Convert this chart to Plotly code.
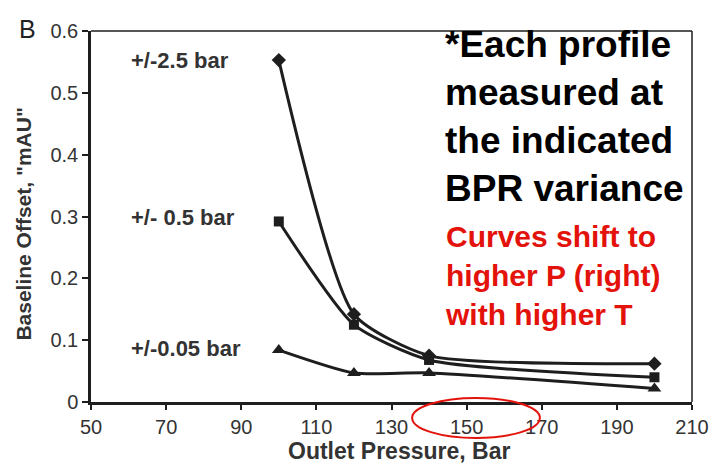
import plotly.graph_objects as go

pressure = [100, 120, 140, 200]
offset_2_5 = [0.553, 0.142, 0.075, 0.062]
offset_0_5 = [0.292, 0.125, 0.068, 0.040]
offset_0_05 = [0.084, 0.047, 0.047, 0.022]
series_names = ["+/-2.5 bar", "+/- 0.5 bar", "+/-0.05 bar"]
x_ticks = [50, 70, 90, 110, 130, 150, 170, 190, 210]
y_ticks = [0, 0.1, 0.2, 0.3, 0.4, 0.5, 0.6]
y_tick_labels = ["0", "0.1", "0.2", "0.3", "0.4", "0.5", "0.6"]

FONT = "Liberation Sans, Arial, sans-serif"
INK = "#1e1e1e"

fig = go.Figure()
for ys, sym, msize, name in [(offset_2_5, "diamond", 11, series_names[0]),
                             (offset_0_5, "square", 10, series_names[1]),
                             (offset_0_05, "triangle-up", 12, series_names[2])]:
    fig.add_trace(go.Scatter(
        x=pressure, y=ys, mode="lines+markers", name=name,
        line=dict(color=INK, width=3, shape="spline", smoothing=0.6),
        marker=dict(symbol=sym, size=msize, color=INK),
        showlegend=False))

ann = []
# series labels
for txt, yv in [(series_names[0], 0.553), (series_names[1], 0.298), (series_names[2], 0.087)]:
    ann.append(dict(x=60.2, y=yv, xref="x", yref="y", text="<b>%s</b>" % txt,
                    showarrow=False, xanchor="left", yanchor="middle",
                    font=dict(family=FONT, size=22, color="#333333")))

ann.append(dict(x=0.585, y=1.025, xref="paper", yref="paper",
                text="<b>*Each profile<br>measured at<br>the indicated<br>BPR variance</b>",
                showarrow=False, xanchor="left", yanchor="top", align="left",
                font=dict(family=FONT, size=37, color="#000000")))
ann.append(dict(x=0.585, y=0.495, xref="paper", yref="paper",
                text="<b>Curves shift to<br>higher P (right)<br>with higher T</b>",
                showarrow=False, xanchor="left", yanchor="top", align="left",
                font=dict(family=FONT, size=30, color="#e3120b")))
# axis titles
ann.append(dict(x=-0.112, y=0.48, xref="paper", yref="paper",
                text='<b>Baseline Offset, "mAU"</b>', textangle=-90,
                showarrow=False, xanchor="center", yanchor="middle",
                font=dict(family=FONT, size=21, color="#333333")))
ann.append(dict(x=0.513, y=-0.133, xref="paper", yref="paper",
                text="<b>Outlet Pressure, Bar</b>",
                showarrow=False, xanchor="center", yanchor="middle",
                font=dict(family=FONT, size=23, color="#333333")))
ann.append(dict(x=-0.105, y=1.005, xref="paper", yref="paper", text="B",
                showarrow=False, xanchor="center", yanchor="middle",
                font=dict(family=FONT, size=25, color="#222222")))

shapes = [
    dict(type="line", xref="paper", yref="paper", x0=0, x1=1, y0=1, y1=1,
         line=dict(color=INK, width=1.5)),
    dict(type="line", xref="paper", yref="paper", x0=1, x1=1, y0=0, y1=1,
         line=dict(color=INK, width=1.5)),
    dict(type="circle", xref="x", yref="paper", x0=135.5, x1=169.5, y0=-0.097, y1=0.011,
         line=dict(color="#e3120b", width=2)),
]

# page body has an 8px default margin; compensate so the plot area lands at x 91-700, y 22-402
fig.update_layout(
    width=713, height=456,
    margin=dict(l=83, r=21, t=14, b=62),
    paper_bgcolor="white", plot_bgcolor="white",
    annotations=ann, shapes=shapes,
    xaxis=dict(range=[50, 210], tickmode="array", tickvals=x_ticks,
               showline=True, linecolor=INK, linewidth=2.5, showgrid=False, zeroline=False,
               ticks="outside", ticklen=5, tickwidth=2, tickcolor=INK,
               tickfont=dict(family=FONT, size=20, color="#333333")),
    yaxis=dict(range=[0, 0.6], tickmode="array", tickvals=y_ticks, ticktext=y_tick_labels,
               showline=True, linecolor=INK, linewidth=2.5, showgrid=False, zeroline=False,
               ticks="outside", ticklen=6, tickwidth=2, tickcolor=INK,
               tickfont=dict(family=FONT, size=20, color="#333333")),
)

fig.write_html("out.html")
